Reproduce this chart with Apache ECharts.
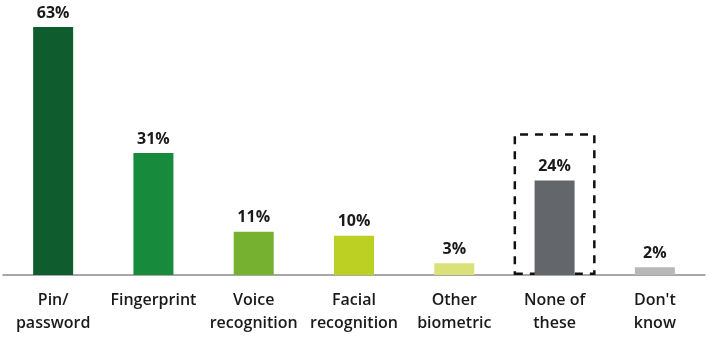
<!DOCTYPE html>
<html>
<head>
<meta charset="utf-8">
<script src="https://cdn.jsdelivr.net/npm/echarts@6/dist/echarts.min.js"></script>
<style>html,body{margin:0;padding:0;background:#fff}#c{width:720px;height:348px}</style>
</head>
<body>
<div id="c"></div>
<script>
var categories = ['Pin/\npassword', 'Fingerprint', 'Voice\nrecognition', 'Facial\nrecognition', 'Other\nbiometric', 'None of\nthese', "Don't\nknow"];
var values = [63, 31, 11, 10, 3, 24, 2];
var barColors = ['#0f5c2e', '#178a3c', '#76b230', '#bccf23', '#dbe179', '#63666a', '#b8b8b8'];
var highlightBox = [null, null, null, null, null, 36, null];

var chart = echarts.init(document.getElementById('c'), null, {renderer: 'canvas'});
var font = '"Open Sans", "Noto Sans", sans-serif';
chart.setOption({
  animation: false,
  grid: {left: 3, right: 15, top: 27, bottom: 73},
  xAxis: [{
    type: 'category', data: categories,
    axisLine: {lineStyle: {color: '#8a8a8a', width: 1.5}},
    axisTick: {show: false},
    axisLabel: {interval: 0, color: '#1a1a1a', fontFamily: font, fontWeight: 600, fontSize: 16, lineHeight: 23, margin: 14}
  }, {
    type: 'category', data: categories, show: false
  }],
  yAxis: {type: 'value', min: 0, max: 63, show: false, splitLine: {show: false}},
  series: [{
    type: 'bar', xAxisIndex: 0, barWidth: 40,
    data: values.map(function (v, i) { return {value: v, itemStyle: {color: barColors[i]}}; }),
    label: {show: true, position: 'top', distance: 6, formatter: '{c}%', color: '#1a1a1a', fontFamily: font, fontWeight: 'bold', fontSize: 16}
  }, {
    type: 'bar', xAxisIndex: 1, barWidth: 82, silent: true, z: 1,
    data: highlightBox,
    itemStyle: {color: 'rgba(0,0,0,0)', borderColor: '#111', borderWidth: 2.5, borderType: [8, 7]}
  }]
});
</script>
</body>
</html>
